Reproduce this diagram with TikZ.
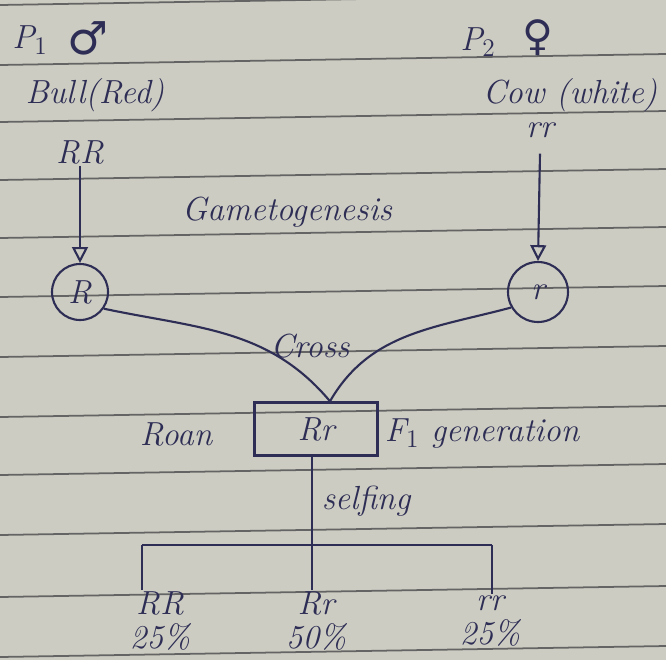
\documentclass[tikz,border=0pt]{standalone}
\usepackage{fontspec}
\usepackage{xcolor}
\usepackage{tikz}
\usetikzlibrary{arrows.meta}
\newfontfamily\symbolfont{DejaVu Sans}
\definecolor{PaperGray}{RGB}{204,204,194}
\definecolor{RuleGray}{RGB}{100,100,100}
\definecolor{InkBlue}{RGB}{45,45,85}
\newcommand{\hand}{\fontsize{19}{22}\selectfont\itshape}
\tikzset{
    ink/.style={draw=InkBlue, line width=1.2pt},
    lbl/.style={text=InkBlue, font=\hand, inner sep=1pt},
    gamete/.style={ink, circle, minimum size=56*0.02cm, text=InkBlue, font=\hand},
    inherit/.style={ink, -{Triangle[open, length=9pt, width=9pt]}}
}

\begin{document}
\begin{tikzpicture}[x=0.02cm, y=-0.02cm]
    % paper with ruled lines
    \fill[PaperGray] (0,0) rectangle (666,660);
    \useasboundingbox (0,0) rectangle (666,660);
    \foreach \y in {5,65,122,180,238,297,357,417,475,535,597,657}
      \draw[RuleGray, line width=1pt] (0,\y) -- (666,\y-11);

    % parents
    \node[lbl] (p1) at (30,40) {P$_1$};
    \node[lbl, font=\symbolfont\fontsize{26}{28}\selectfont] (male) at (88,38) {♂};
    \node[lbl] (p2) at (478,42) {P$_2$};
    \node[lbl, font=\symbolfont\fontsize{24}{26}\selectfont] (female) at (538,38) {♀};
    \node[lbl] (bull) at (95,95) {Bull(Red)};
    \node[lbl] (cow) at (570,95) {Cow (white)};
    \node[lbl] (gRR) at (80,152) {RR};
    \node[lbl] (grr) at (540,130) {rr};

    % gametes
    \node[lbl] (gameto) at (287,212) {Gametogenesis};
    \node[gamete] (gR) at (80,292) {R};
    \node[gamete, minimum size=60*0.02cm] (gr) at (538,292) {r};
    \draw[inherit] (gRR.south) -- (gR.north);
    \draw[inherit] (grr.south) ++(0,14) -- (gr.north);

    % F1
    \node[lbl, ink, line width=1.4pt, minimum width=123*0.02cm, minimum height=53*0.02cm] (F1) at (316,429) {Rr};
    \node[lbl] (roan) at (176,434) {Roan};
    \node[lbl] (f1gen) at (482,434) {F$_1$ generation};
    \node[lbl] (cross) at (310,346) {Cross};
    \draw[ink] (gR.-35) to[out=-12, in=130] ([xshift=14*0.02cm]F1.north);
    \draw[ink] (gr.-150) to[out=195, in=60] ([xshift=14*0.02cm]F1.north);

    % F2 by selfing
    \coordinate (split) at (312,545);
    \coordinate (left) at (142,545);
    \coordinate (right) at (492,545);
    \node[lbl, align=center] (oRR) at (160,621) {RR\\[-3pt]25\%};
    \node[lbl, align=center] (oRr) at (316,621) {Rr\\[-3pt]50\%};
    \node[lbl, align=center] (orr) at (490,621) {rr\\[-3pt]25\%};
    \draw[ink] (F1.south -| split) -- node[lbl, right=4pt] (selfing) {selfing} (split);
    \draw[ink] (left) -- (right);
    \draw[ink] (left) -- (left |- oRR.north);
    \draw[ink] (split) -- (split |- oRr.north);
    \draw[ink] (right) -- (right |- orr.north);
\end{tikzpicture}
\end{document}
